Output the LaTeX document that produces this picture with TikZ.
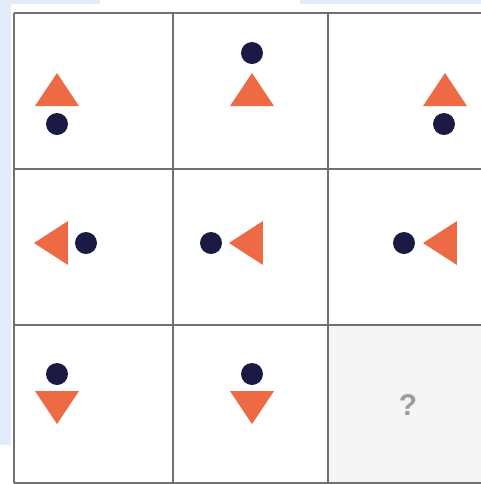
\documentclass[tikz,border=0pt]{standalone}
\usepackage{fontspec}
\setmainfont{Liberation Sans}
\definecolor{tri}{HTML}{EE6A45}
\definecolor{dotc}{HTML}{1B1A45}
\definecolor{gridc}{HTML}{707070}
\definecolor{bgblue}{HTML}{E2ECFB}
\definecolor{qfill}{HTML}{F5F5F5}
\definecolor{qtext}{HTML}{9C9C9C}
\tikzset{
  dotn/.style={circle,fill=dotc,inner sep=0pt,minimum size=22*0.5pt},
  trif/.style={fill=tri,draw=none},
  gridl/.style={draw=gridc,line width=1.1pt},
}
\begin{document}
\begin{tikzpicture}[x=0.5pt,y=-0.5pt]
\useasboundingbox (0,0) rectangle (481,484);
\fill[white] (0,0) rectangle (481,484);
\fill[bgblue] (0,0) rectangle (11,445);
\fill[bgblue] (0,0) rectangle (100,4);
\fill[bgblue] (300,0) rectangle (481,4);
\fill[qfill] (328,325) rectangle (490,483);
% grid
\draw[gridl] (14,13) -- (490,13);
\draw[gridl] (14,169) -- (490,169);
\draw[gridl] (14,325) -- (490,325);
\draw[gridl] (14,483) -- (490,483);
\draw[gridl] (14,13) -- (14,483);
\draw[gridl] (173,13) -- (173,483);
\draw[gridl] (328,13) -- (328,483);
% row 1
\fill[trif] (57,73) -- (79,106) -- (35,106) -- cycle;
\node[dotn] (d1) at (57,124) {};
\node[dotn] (d2) at (252,53) {};
\fill[trif] (252,73) -- (274,106) -- (230,106) -- cycle;
\fill[trif] (445,73) -- (467,106) -- (423,106) -- cycle;
\node[dotn] (d3) at (444,124) {};
% row 2
\fill[trif] (34,243) -- (68,221) -- (68,265) -- cycle;
\node[dotn] (d4) at (86,243) {};
\node[dotn] (d5) at (211,243) {};
\fill[trif] (229,243) -- (263,221) -- (263,265) -- cycle;
\node[dotn] (d6) at (404,243) {};
\fill[trif] (423,243) -- (457,221) -- (457,265) -- cycle;
% row 3
\node[dotn] (d7) at (57,374) {};
\fill[trif] (35,391) -- (79,391) -- (57,424) -- cycle;
\node[dotn] (d8) at (252,374) {};
\fill[trif] (230,391) -- (274,391) -- (252,424) -- cycle;
\node[text=qtext,font=\bfseries\fontsize{15}{15}\selectfont] (q) at (408,405) {?};
\end{tikzpicture}
\end{document}
